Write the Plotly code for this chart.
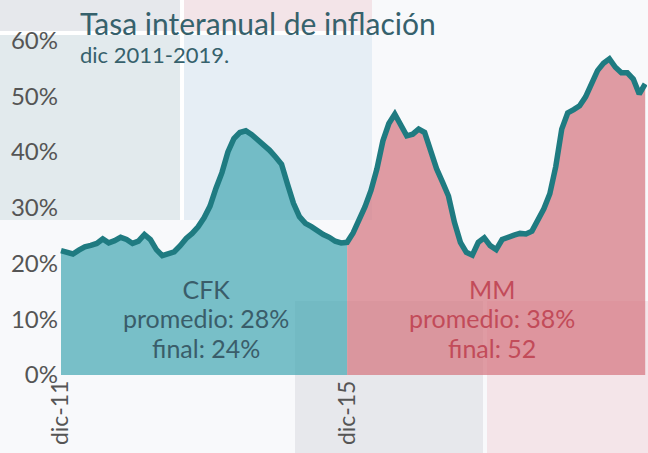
import plotly.graph_objects as go

# ---- data ----
tick_labels = ["dic-11", "dic-15", "nov-19"]
tick_index = [0, 48, 98]
y_ticks = [0, 10, 20, 30, 40, 50, 60]
y_tick_labels = ["0%", "10%", "20%", "30%", "40%", "50%", "60%"]

# CFK period: dic-11 .. dic-15 (monthly, interanual %)
cfk_values = [22.3, 22.0, 21.7, 22.4, 23.0, 23.25, 23.6, 24.4, 23.7, 24.1,
              24.7, 24.3, 23.6, 24.0, 25.2, 24.3, 22.5, 21.4, 21.8, 22.1,
              23.2, 24.5, 25.4, 26.6, 28.2, 30.3, 33.5, 36.3, 40.0, 42.4,
              43.5, 43.8, 43.1, 42.2, 41.3, 40.3, 39.1, 37.8, 34.2, 30.8,
              28.4, 27.2, 26.6, 25.8, 25.2, 24.7, 24.0, 23.7, 23.8]
# MM period: months after dic-15 .. nov-19
mm_values = [25.5, 27.7, 30.2, 33.1, 37.0, 42.0, 45.1, 46.8, 45.0, 42.9,
             43.2, 44.1, 43.5, 39.9, 37.0, 34.6, 32.1, 27.4, 23.8, 22.0,
             21.5, 23.8, 24.6, 23.2, 22.5, 24.3, 24.8, 25.1, 25.4, 25.3,
             25.8, 27.7, 29.8, 32.5, 37.4, 44.1, 47.0, 47.6, 48.3, 49.9,
             52.3, 54.6, 55.9, 56.7, 55.2, 54.2, 54.2, 53.1, 50.4, 52.2]

title_text = "Tasa interanual de inflación"
subtitle_text = "dic 2011-2019."
cfk_lines = ["CFK", "promedio: 28%", "final: 24%"]
mm_lines = ["MM", "promedio: 38%", "final: 52"]

# ---- derived ----
n_cfk = len(cfk_values)
cfk_x = list(range(n_cfk))
mm_x = list(range(n_cfk - 1, n_cfk + len(mm_values)))
mm_y = [cfk_values[-1]] + mm_values
all_x = cfk_x + mm_x[1:]
all_y = cfk_values + mm_values

W, H = 648, 453
L, R, T, B = 59, 1, 35, 78
PW, PH = W - L - R, H - T - B


def px(x):
    return (x - L) / PW


def py(y):
    return (H - B - y) / PH


fig = go.Figure()
fig.add_trace(go.Scatter(x=cfk_x, y=cfk_values, mode="lines", line=dict(width=0),
                         fill="tozeroy", fillcolor="rgba(65,166,178,0.70)",
                         hoverinfo="skip", showlegend=False))
fig.add_trace(go.Scatter(x=mm_x, y=mm_y, mode="lines", line=dict(width=0),
                         fill="tozeroy", fillcolor="rgba(212,116,125,0.70)",
                         hoverinfo="skip", showlegend=False))
fig.add_trace(go.Scatter(x=all_x, y=all_y, mode="lines",
                         line=dict(color="#1f7b81", width=5.5),
                         showlegend=False))

# decorative background rectangles (pixel positions -> paper coords)
rects = [
    (0, 31, 372, 35, "#ffffff"),
    (180, 0, 184, 220, "#ffffff"),
    (0, 0, 180, 31, "#e6e8ec"),
    (184, 0, 372, 31, "#f3e4e8"),
    (0, 35, 180, 220, "#e2eaed"),
    (184, 35, 372, 220, "#e6eef5"),
    (295, 301, 483, 453, "#e7e8ec"),
    (487, 301, 648, 453, "#f4e5e9"),
]
shapes = []
for x0, y0, x1, y1, c in rects:
    shapes.append(dict(type="rect", xref="paper", yref="paper",
                       x0=px(x0), x1=px(x1), y0=py(y1), y1=py(y0),
                       fillcolor=c, line=dict(width=0), layer="below"))


def block(lines, size):
    return "<br>".join('<span style="font-size:%dpx">%s</span>' % (size, t) for t in lines)


ann = []
ann.append(dict(text='<span style="font-size:30px">%s</span><br>'
                     '<span style="font-size:22px">%s</span>' % (title_text, subtitle_text),
                xref="paper", yref="paper", x=px(78), y=py(36),
                xanchor="left", yanchor="middle", align="left", showarrow=False,
                font=dict(family="Lato", size=21.5, color="#36616c")))
ann.append(dict(text=block(cfk_lines, 25), xref="x", yref="paper", x=24.3, y=py(318),
                xanchor="center", yanchor="middle", align="center", showarrow=False,
                font=dict(family="Lato", size=22.5, color="#3a5d6a")))
ann.append(dict(text=block(mm_lines, 25), xref="x", yref="paper", x=72.3, y=py(318),
                xanchor="center", yanchor="middle", align="center", showarrow=False,
                font=dict(family="Lato", size=22.5, color="#c24b59")))

s = (645.2 - 61) / 98.0
x_lo = -(61 - L) / s
x_hi = 98 + (W - R - 645.2) / s

fig.update_layout(
    width=W, height=H,
    margin=dict(l=L, r=R, t=T, b=B, pad=0),
    paper_bgcolor="#f8f9fb",
    plot_bgcolor="rgba(0,0,0,0)",
    shapes=shapes,
    annotations=ann,
    font=dict(family="Lato", color="#555555"),
    xaxis=dict(range=[x_lo, x_hi], tickmode="array", tickvals=tick_index, ticktext=tick_labels,
               tickangle=-90, showgrid=False, zeroline=False, showline=False,
               tickfont=dict(family="Lato", size=23, color="#555555"), fixedrange=True),
    yaxis=dict(range=[0, (H - B - T) / ((H - B - 40.5) / 60.0)], tickmode="array",
               tickvals=y_ticks, ticktext=y_tick_labels,
               showgrid=False, zeroline=False, showline=False,
               tickfont=dict(family="Lato", size=24, color="#555555"), fixedrange=True),
)

fig.write_html("out.html", config={"displayModeBar": False},
               post_script="document.body.style.margin='0';")
